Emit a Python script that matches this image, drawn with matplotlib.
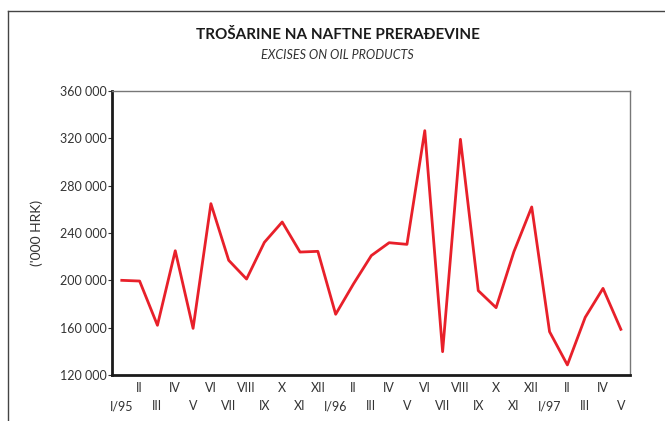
import matplotlib.pyplot as plt
from matplotlib.lines import Line2D

# monthly excise revenue, '000 HRK, I/95 - V/97
months = ['I/95', 'II', 'III', 'IV', 'V', 'VI', 'VII', 'VIII', 'IX', 'X', 'XI', 'XII',
          'I/96', 'II', 'III', 'IV', 'V', 'VI', 'VII', 'VIII', 'IX', 'X', 'XI', 'XII',
          'I/97', 'II', 'III', 'IV', 'V']
excises = [200000, 199400, 162000, 225000, 159400, 264800, 216900, 201100, 232100,
           249300, 223900, 224500, 171300, 197000, 220900, 231800, 230400, 326500,
           139700, 319200, 191300, 176900, 224200, 262000, 156600, 128500, 168700,
           193200, 158600]
y_ticks = [120000, 160000, 200000, 240000, 280000, 320000, 360000]

plt.rcParams['font.family'] = ['Lato', 'DejaVu Sans']

fig = plt.figure(figsize=(6.65, 4.21), dpi=100)
ax = fig.add_axes([0.1684, 0.1093, 0.7786, 0.6745])

x = list(range(len(excises)))
ax.plot(x, excises, color='#e8202a', linewidth=2)

ax.set_xlim(-0.55, 28.5)
ax.set_ylim(120000, 360000)
ax.set_yticks(y_ticks)
ax.set_yticklabels([f'{v:,}'.replace(',', ' ') for v in y_ticks], fontsize=9, color='#333333')
ax.tick_params(axis='y', direction='out', length=3, width=0.8, color='#333333', pad=1)
ax.set_xticks([])

# two-row month labels
for i, lab in enumerate(months):
    yoff = -0.045 if i % 2 == 1 else -0.11
    ax.text(i, yoff, lab, transform=ax.get_xaxis_transform(), ha='center', va='center',
            fontsize=9, color='#333333')

for side in ['left', 'bottom']:
    ax.spines[side].set_linewidth(2)
    ax.spines[side].set_color('#1a1a1a')
for side in ['top', 'right']:
    ax.spines[side].set_linewidth(1)
    ax.spines[side].set_color('#777777')

ax.set_ylabel("('000 HRK)", fontsize=10, color='#333333')
ax.yaxis.set_label_coords(-0.133, 0.5)

fig.text(0.508, 0.917, 'TROŠARINE NA NAFTNE PRERAĐEVINE', ha='center', va='center',
         fontsize=11, fontweight='bold', color='#1a1a1a')
fig.text(0.508, 0.87, 'EXCISES ON OIL PRODUCTS', ha='center', va='center',
         fontsize=9, style='italic', color='#333333')

# outer frame: left and top edges only
frame = dict(transform=fig.transFigure, color='#444444', linewidth=1)
fig.add_artist(Line2D([0.012, 0.012], [0.0, 0.974], **frame))
fig.add_artist(Line2D([0.012, 1.0], [0.974, 0.974], **frame))

fig.savefig('out.png', dpi=100)
